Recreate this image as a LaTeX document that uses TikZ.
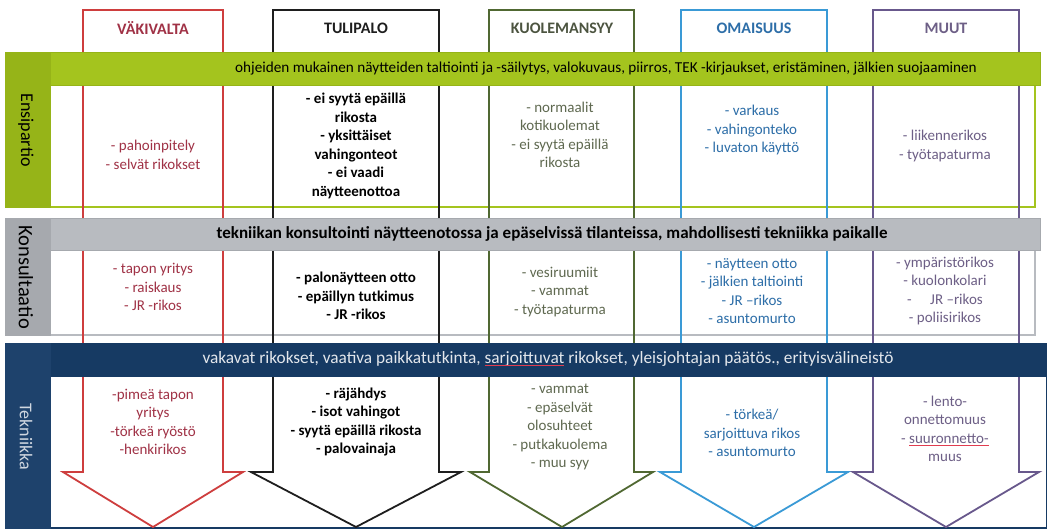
\documentclass[tikz,border=0pt]{standalone}
\usepackage{fontspec}
\setmainfont{Carlito}
\usepackage{tikz}
\definecolor{bandgreen}{RGB}{164,196,30}
\definecolor{bandgreendk}{RGB}{150,180,24}
\definecolor{bandgray}{RGB}{184,187,192}
\definecolor{bandgraydk}{RGB}{166,169,174}
\definecolor{bandnavy}{RGB}{22,58,99}
\definecolor{bandnavydk}{RGB}{30,66,108}
\definecolor{colred}{RGB}{206,62,62}
\definecolor{colblack}{RGB}{30,30,30}
\definecolor{colgreen}{RGB}{80,104,50}
\definecolor{colblue}{RGB}{58,154,214}
\definecolor{colpurple}{RGB}{104,88,140}
\definecolor{txtred}{RGB}{160,50,70}
\definecolor{txtgreen}{RGB}{95,105,80}
\definecolor{txtblue}{RGB}{45,110,168}
\definecolor{txtpurple}{RGB}{109,95,134}
\definecolor{spellred}{RGB}{225,60,80}
\newcommand{\misspelt}[1]{\setbox0\hbox{#1}\copy0\llap{\textcolor{spellred}{\rule[-2.5pt]{\wd0}{0.9pt}}}}
\tikzset{every picture/.style={line width=0.75pt}}

\begin{document}
\begin{tikzpicture}[x=1pt,y=1pt,yscale=-1,
	colarrow/.style={line width=1.8pt, line join=miter},
	bandbody/.style={fill=white, line width=1.2pt},
	header/.style={font=\bfseries\fontsize{16}{18}\selectfont},
	celltext/.style={align=center, font=\fontsize{15}{18.5}\selectfont},
	boldcell/.style={celltext, font=\bfseries\fontsize{15}{18.5}\selectfont},
	bandtext/.style={font=\fontsize{15.2}{17}\selectfont},
	sidelabel/.style={rotate=-90, font=\fontsize{18}{20}\selectfont}]
		\useasboundingbox (0,0) rectangle (1047,528);
		
		%Shape: Rectangle [id:band1body] 
		\draw [bandbody, draw=bandgreen]  (50,85) rectangle (1035,207) ;
		%Shape: Rectangle [id:band2body] 
		\draw [bandbody, draw=bandgray]  (50,250) rectangle (1035,335) ;
		%Shape: Rectangle [id:band3body] 
		\draw [bandbody, draw=bandnavy]  (50,376) rectangle (1047,528) ;
		
		%Shape: Arrow [id:arrowred] 
		\draw [colarrow, color=colred]  (83,10) -- (223,10) -- (223,472) -- (243,472) -- (153,527) -- (63,472) -- (83,472) -- cycle ;
		%Shape: Arrow [id:arrowblack] 
		\draw [colarrow, color=colblack]  (273,10) -- (439,10) -- (439,472) -- (461,472) -- (356,527) -- (251,472) -- (273,472) -- cycle ;
		%Shape: Arrow [id:arrowgreen] 
		\draw [colarrow, color=colgreen]  (489,10) -- (634,10) -- (634,472) -- (653,472) -- (562,527) -- (470,472) -- (489,472) -- cycle ;
		%Shape: Arrow [id:arrowblue] 
		\draw [colarrow, color=colblue]  (681,10) -- (827,10) -- (827,472) -- (848,472) -- (754,527) -- (660,472) -- (681,472) -- cycle ;
		%Shape: Arrow [id:arrowpurple] 
		\draw [colarrow, color=colpurple]  (873,10) -- (1019,10) -- (1019,472) -- (1039,472) -- (946,527) -- (853,472) -- (873,472) -- cycle ;
		
		%Shape: Rectangle [id:band1title] 
		\draw [draw=bandgreendk, fill=bandgreen]  (5,52) rectangle (1040,85) ;
		\draw [draw=bandgreendk, fill=bandgreendk]  (5,52) rectangle (50,207) ;
		%Shape: Rectangle [id:band2title] 
		\draw [draw=bandgraydk, fill=bandgray]  (5,218) rectangle (1040,250) ;
		\draw [draw=bandgraydk, fill=bandgraydk]  (5,218) rectangle (50,335) ;
		%Shape: Rectangle [id:band3title] 
		\draw [draw=bandnavy, fill=bandnavy]  (5,343) rectangle (1047,376) ;
		\draw [draw=bandnavydk, fill=bandnavydk]  (5,343) rectangle (50,528) ;
		
		% Text Node
		\node [header, text=txtred] (hvak) at (153,28) {VÄKIVALTA};
		% Text Node
		\node [header, text=colblack] (htuli) at (356,28) {TULIPALO};
		% Text Node
		\node [header, text=txtgreen!80!black] (hkuol) at (562,28) {KUOLEMANSYY};
		% Text Node
		\node [header, text=txtblue] (homai) at (754,28) {OMAISUUS};
		% Text Node
		\node [header, text=txtpurple] (hmuut) at (946,28) {MUUT};
		
		% Text Node
		\node [bandtext] (t1) at (606,69) {ohjeiden mukainen näytteiden taltiointi ja -säilytys, valokuvaus, piirros, TEK -kirjaukset, eristäminen, jälkien suojaaminen};
		% Text Node
		\node [bandtext, font=\bfseries\fontsize{17}{19}\selectfont] (t2) at (552,234) {tekniikan konsultointi näytteenotossa ja epäselvissä tilanteissa, mahdollisesti tekniikka paikalle};
		% Text Node
		\node [bandtext, font=\fontsize{17.3}{19}\selectfont, text=white!88!bandnavy] (t3) at (548,359) {vakavat rikokset, vaativa paikkatutkinta, \misspelt{sarjoittuvat} rikokset, yleisjohtajan päätös., erityisvälineistö};
		
		% Text Node
		\node [sidelabel] (s1) at (26,130) {Ensipartio};
		% Text Node
		\node [sidelabel, font=\fontsize{20.5}{22}\selectfont] (s2) at (26,277) {Konsultaatio};
		% Text Node
		\node [sidelabel, text=white!80!bandnavy] (s3) at (26,437) {Tekniikka};
		
		% Text Node
		\node [celltext, text=txtred] (r1c1) at (153,155) {- pahoinpitely\\- selvät rikokset};
		% Text Node
		\node [boldcell] (r1c2) at (356,146) {- ei syytä epäillä\\rikosta\\- yksittäiset\\vahingonteot\\- ei vaadi\\näytteenottoa};
		% Text Node
		\node [celltext, text=txtgreen] (r1c3) at (560,135) {- normaalit\\kotikuolemat\\- ei syytä epäillä\\rikosta};
		% Text Node
		\node [celltext, text=txtblue] (r1c4) at (752,130) {- varkaus\\- vahingonteko\\- luvaton käyttö};
		% Text Node
		\node [celltext, text=txtpurple] (r1c5) at (945,146) {- liikennerikos\\- työtapaturma};
		
		% Text Node
		\node [celltext, text=txtred] (r2c1) at (153,287) {- tapon yritys\\- raiskaus\\- JR -rikos};
		% Text Node
		\node [boldcell] (r2c2) at (356,296) {- palonäytteen otto\\- epäillyn tutkimus\\- JR -rikos};
		% Text Node
		\node [celltext, text=txtgreen] (r2c3) at (560,292) {- vesiruumiit\\- vammat\\- työtapaturma};
		% Text Node
		\node [celltext, text=txtblue] (r2c4) at (752,291) {- näytteen otto\\- jälkien taltiointi\\- JR –rikos\\- asuntomurto};
		% Text Node
		\node [celltext, text=txtpurple] (r2c5) at (945,291) {- ympäristörikos\\- kuolonkolari\\- \quad JR –rikos\\- poliisirikos};
		
		% Text Node
		\node [celltext, text=txtred] (r3c1) at (153,422) {-pimeä tapon\\yritys\\-törkeä ryöstö\\-henkirikos};
		% Text Node
		\node [boldcell] (r3c2) at (356,422) {- räjähdys\\- isot vahingot\\- syytä epäillä rikosta\\- palovainaja};
		% Text Node
		\node [celltext, text=txtgreen] (r3c3) at (560,427) {- vammat\\- epäselvät\\olosuhteet\\- putkakuolema\\- muu syy};
		% Text Node
		\node [celltext, text=txtblue] (r3c4) at (752,433) {- törkeä/\\sarjoittuva rikos\\- asuntomurto};
		% Text Node
		\node [celltext, text=txtpurple] (r3c5) at (945,429) {- lento-\\onnettomuus\\- \misspelt{suuronnetto-}\\muus};
		\end{tikzpicture}
\end{document}
